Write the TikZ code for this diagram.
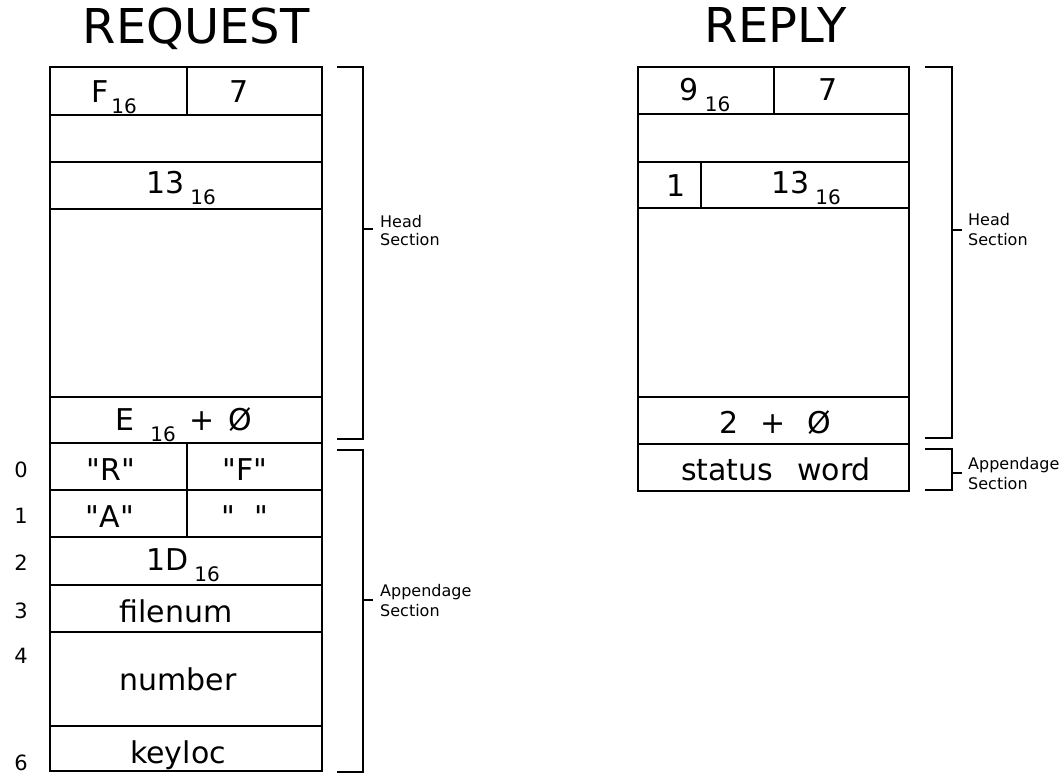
\documentclass[tikz,border=0pt]{standalone}
\usepackage{fontspec}
\setmainfont{DejaVu Sans}[Ligatures=TeXOff]
\newcommand\sixteen{\raisebox{-11pt}{\fontsize{20}{20}\selectfont 16}}
\tikzset{
  cell/.style={line width=2.7pt},
  brk/.style={line width=2.4pt},
  big/.style={font=\fontsize{30}{30}\selectfont, anchor=base, inner sep=0pt},
  ttl/.style={font=\fontsize{48}{48}\selectfont, anchor=base, inner sep=0pt},
  lbl/.style={font=\fontsize{16}{16}\selectfont, anchor=base west, inner sep=0pt},
  num/.style={font=\fontsize{21}{21}\selectfont, anchor=base, inner sep=0pt},
}
\begin{document}
\begin{tikzpicture}[x=1pt,y=-1pt]
\useasboundingbox (0,0) rectangle (1064,774);
% titles
\node[ttl] (treq) at (196,43) {REQUEST};
\node[ttl] (trep) at (776,42) {REPLY};
% ---------- REQUEST ----------
\draw[cell] (50,67) rectangle (322,771);
\foreach \yy in {115,162,209,397,443,490,537,585,632,726}
  \draw[cell] (50,\yy) -- (322,\yy);
\draw[cell] (187,67) -- (187,115);
\draw[cell] (187,443) -- (187,537);
\node[big] (qf) at (114,102) {F\kern3pt\sixteen};
\node[big] (q7) at (239,102) {7};
\node[big] (q13) at (181,193) {13\kern6pt\sixteen};
\node[big] (qe) at (184,430) {E\hspace{16pt}\sixteen\hspace{14pt}+\hspace{14pt}Ø};
\node[big] (qr) at (111,480) {"R"};
\node[big] (qff) at (245,480) {"F"};
\node[big] (qa) at (110,527) {"A"};
\node[big] (qb) at (245,527) {"\hspace{20pt}"};
\node[big] (q1d) at (183,570) {1D\kern6pt\sixteen};
\node[big] (qfn) at (176,622) {filenum};
\node[big] (qnum) at (178,690) {number};
\node[big] (qkey) at (178,763) {keyloc};
% row numbers
\node[num] (n0) at (21,477) {0};
\node[num] (n1) at (21,523) {1};
\node[num] (n2) at (21,570) {2};
\node[num] (n3) at (21,618) {3};
\node[num] (n4) at (21,663) {4};
\node[num] (n6) at (21,770) {6};
% brackets
\draw[brk] (337,67) -- (363,67) -- (363,439) -- (337,439);
\draw[brk] (363,229) -- (373,229);
\node[lbl] (qh1) at (380,227) {Head};
\node[lbl] (qh2) at (380,245) {Section};
\draw[brk] (337,450) -- (363,450) -- (363,772) -- (337,772);
\draw[brk] (363,600) -- (373,600);
\node[lbl] (qa1) at (380,596) {Appendage};
\node[lbl] (qa2) at (380,616) {Section};
% ---------- REPLY ----------
\draw[cell] (638,67) rectangle (909,491);
\foreach \yy in {114,162,208,397,444}
  \draw[cell] (638,\yy) -- (909,\yy);
\draw[cell] (774,67) -- (774,114);
\draw[cell] (701,162) -- (701,208);
\node[big] (r9) at (705,100) {9\kern6pt\sixteen};
\node[big] (r7) at (828,100) {7};
\node[big] (r1) at (676,196) {1};
\node[big] (r13) at (806,193) {13\kern6pt\sixteen};
\node[big] (r2) at (775,433) {2\hspace{22pt}+\hspace{22pt}Ø};
\node[big] (rsw) at (776,480) {status\hspace{24pt}word};
\draw[brk] (925,67) -- (952,67) -- (952,438) -- (925,438);
\draw[brk] (952,230) -- (962,230);
\node[lbl] (rh1) at (968,225) {Head};
\node[lbl] (rh2) at (968,245) {Section};
\draw[brk] (925,449) -- (952,449) -- (952,490) -- (925,490);
\draw[brk] (952,473) -- (962,473);
\node[lbl] (ra1) at (968,469) {Appendage};
\node[lbl] (ra2) at (968,489) {Section};
\end{tikzpicture}
\end{document}
